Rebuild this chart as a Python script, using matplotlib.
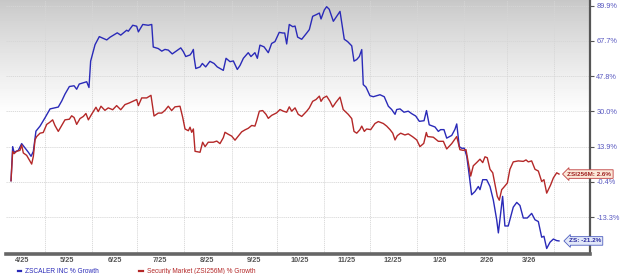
import matplotlib
matplotlib.use('Agg')
import matplotlib.pyplot as plt
import numpy as np
import pandas as pd

plt.rcParams['font.family'] = ['Liberation Sans', 'DejaVu Sans']

# days since 2025-04-01, % growth
zs_days = [7.9, 9.0, 9.9, 12.7, 14.9, 17.1, 19.3, 21.1, 22.6, 24.3, 27.0, 30.3, 33.6, 39.0,
           41.3, 43.4, 46.3, 49.4, 51.1, 52.8, 56.6, 57.7, 59.2, 60.3, 63.2, 66.0, 70.9, 73.0,
           77.8, 80.1, 84.0, 85.1, 88.0, 90.6, 91.7, 94.6, 98.2, 100.5, 101.5, 104.8, 107.1,
           109.2, 111.4, 114.0, 116.9, 119.6, 121.3, 122.9, 125.7, 126.8, 127.9, 128.3, 129.5,
           132.3, 133.8, 136.0, 138.8, 141.5, 143.6, 147.6, 149.4, 152.0, 154.2, 156.8, 158.6,
           160.8, 164.0, 165.8, 168.4, 170.0, 171.7, 174.4, 177.2, 179.4, 181.6, 184.4, 186.7,
           188.0, 189.3, 191.0, 193.3, 194.8, 196.5, 199.2, 202.5, 204.2, 206.4, 208.6, 210.8,
           211.9, 214.1, 215.6, 217.3, 220.0, 222.2, 224.4, 227.2, 229.4, 232.1, 233.6, 235.4,
           237.1, 238.7, 239.7, 241.5, 244.1, 246.3, 248.5, 250.7, 253.5, 256.2, 258.4, 260.6,
           261.7, 263.9, 266.5, 269.3, 271.6, 274.2, 276.6, 279.7, 281.3, 283.1, 286.9, 289.1,
           290.6, 292.8, 294.6, 297.9, 300.0, 301.2, 302.9, 304.5, 306.2, 307.8, 309.5, 311.0,
           313.2, 315.4, 316.5, 318.3, 320.9, 323.1, 325.3, 327.5, 328.6, 330.1, 331.4, 332.9,
           335.1, 338.4, 340.7, 342.8, 345.0, 347.6, 350.5, 352.7, 354.9, 357.1, 358.6, 360.4,
           362.6, 364.8, 367.0, 368.5]
zs_pct = [0.0, 13.9, 11.5, 12.3, 15.2, 13.3, 11.5, 9.8, 11.9, 20.7, 23.0, 26.9, 31.1, 32.0,
          35.0, 38.4, 42.3, 42.7, 40.9, 43.6, 44.5, 44.8, 41.8, 56.0, 65.5, 70.3, 68.3, 69.9,
          72.6, 71.2, 74.2, 73.6, 77.3, 76.7, 73.2, 77.8, 77.3, 77.8, 64.1, 63.2, 61.7,
          62.7, 62.3, 60.1, 61.9, 63.6, 61.4, 58.6, 59.5, 60.8, 62.7, 58.6, 51.9,
          52.8, 54.7, 52.8, 55.9, 54.7, 52.8, 50.9, 57.6, 55.7, 56.1, 51.4, 53.6,
          57.6, 60.8, 58.6, 60.8, 57.6, 65.2, 64.2, 60.8, 66.2, 67.3, 72.9, 72.5,
          72.5, 65.9, 77.8, 76.4, 76.8, 70.0, 68.7, 72.5, 74.6, 83.0, 84.0, 85.1,
          81.3, 87.2, 89.3, 87.6, 79.8, 83.0, 86.2, 68.7, 67.3, 64.8, 56.0, 56.9,
          58.6, 62.6, 43.3, 42.0, 37.6, 37.1, 37.6, 38.1, 37.1, 32.4, 30.8, 28.5,
          30.8, 31.1, 29.5, 30.0, 28.8, 27.7, 25.2, 25.5, 30.3, 23.6, 22.6, 20.6,
          21.4, 21.4, 17.6, 18.8, 21.5, 24.0, 13.9, 13.2, 13.2, 9.8, 1.8, -5.3,
          -4.1, -2.2, -3.4, 0.4, 0.4, -2.2, -7.3, -14.2, -18.6, -12.0, -5.9, -16.3,
          -16.3, -9.8, -8.1, -9.2, -13.6, -13.6, -12.0, -14.2, -14.8, -20.0, -19.7, -23.6,
          -21.6, -20.6, -21.1, -21.2]

mkt_days = [7.9, 9.0, 9.9, 11.6, 13.8, 14.9, 16.0, 18.2, 19.9, 21.5, 22.6, 23.7, 24.8, 27.0,
            29.1, 31.4, 33.1, 35.3, 36.8, 39.0, 41.3, 43.4, 46.3, 47.8, 49.4, 51.1, 53.3, 55.5,
            57.2, 58.8, 61.0, 63.8, 65.3, 67.1, 69.7, 71.9, 74.8, 77.4, 80.1, 82.9, 85.7, 88.0,
            90.6, 91.7, 93.9, 97.2, 100.0, 102.0, 104.8, 107.1, 109.2, 111.4, 113.6, 115.8,
            119.1, 120.9, 122.4, 124.6, 125.7, 126.8, 127.9, 129.0, 132.3, 134.0, 135.6, 137.7,
            141.0, 143.3, 145.4, 147.6, 148.7, 150.9, 153.1, 155.3, 157.5, 159.7, 161.9, 164.0,
            166.3, 168.4, 169.6, 171.3, 173.5, 175.7, 177.2, 179.4, 182.7, 184.9, 187.1, 189.3,
            191.0, 192.6, 194.8, 196.9, 199.2, 202.5, 204.2, 206.4, 208.6, 210.8, 211.9, 213.4,
            215.6, 217.8, 219.6, 221.7, 224.4, 226.5, 229.8, 232.1, 233.6, 235.4, 237.5, 238.7,
            240.4, 241.9, 244.6, 247.4, 249.6, 252.9, 255.1, 257.3, 259.1, 260.6, 262.1, 264.3,
            267.1, 269.3, 272.2, 274.9, 277.0, 279.5, 281.2, 282.0, 285.8, 289.1, 292.4, 294.6,
            297.9, 301.2, 303.3, 305.5, 307.3, 308.8, 310.4, 312.1, 314.3, 316.5, 318.3, 319.8,
            321.3, 323.1, 324.9, 326.4, 327.9, 329.2, 330.8, 331.9, 334.5, 336.2, 338.4, 341.7,
            345.0, 346.8, 348.3, 350.5, 352.7, 354.9, 357.1, 358.6, 360.4, 363.0, 364.8, 367.0,
            368.5]
mkt_pct = [0.0, 11.9, 10.9, 11.9, 12.3, 14.6, 11.2, 10.2, 8.3, 6.6, 9.8, 16.9, 18.3, 19.8,
           20.1, 23.8, 24.6, 25.9, 23.3, 20.6, 23.3, 25.9, 26.2, 27.8, 27.0, 23.8, 26.5, 27.5,
           28.9, 25.9, 28.6, 31.9, 29.8, 32.4, 30.4, 31.6, 30.7, 32.7, 30.7, 33.2, 34.0, 34.8,
           35.7, 32.7, 36.5, 36.5, 37.8, 27.7, 29.1, 29.1, 30.4, 32.4, 30.3, 32.1,
           32.4, 27.0, 21.7, 20.9, 22.5, 20.2, 21.7, 11.9, 11.5, 15.8, 13.9, 15.8,
           15.8, 16.3, 15.2, 17.8, 20.2, 19.3, 18.5, 16.7, 18.5, 20.4, 21.3, 22.0,
           23.3, 23.0, 25.6, 30.0, 30.3, 28.5, 26.6, 28.0, 29.2, 30.8, 30.0, 29.5,
           32.1, 30.0, 31.6, 28.5, 27.5, 30.0, 31.6, 34.8, 35.7, 37.4, 34.8, 36.5,
           37.4, 34.8, 32.0, 34.3, 36.9, 30.8, 28.5, 26.5, 20.6, 19.8, 21.4, 23.0,
           20.6, 21.7, 21.4, 24.2, 25.1, 24.2, 23.0, 21.4, 19.8, 16.8, 18.7, 19.8,
           19.0, 19.5, 18.2, 16.8, 13.9, 15.3, 20.1, 18.3, 18.0, 16.2, 16.2, 12.9,
           15.2, 18.3, 12.6, 12.3, 12.6, 7.2, 1.8, 5.9, 7.2, 8.6, 7.2, 9.6,
           9.2, 4.5, 3.1, -1.5, -5.9, -7.3, -3.4, -2.7, -0.9, 4.5, 7.5, 7.9,
           7.7, 8.3, 7.5, 7.9, 4.5, 3.8, -0.3, 0.4, -4.7, -1.6, 1.1, 3.1,
           2.6]

y_ticks = [89.9, 67.7, 47.8, 30.0, 13.9, -0.4, -13.3]
x_labels = ['4/25', '5/25', '6/25', '7/25', '8/25', '9/25', '10/25',
            '11/25', '12/25', '1/26', '2/26', '3/26']

start = pd.Timestamp('2025-04-01')
zs_x = start + pd.to_timedelta(zs_days, unit='D')
mkt_x = start + pd.to_timedelta(mkt_days, unit='D')

blue = '#2a2ab8'
red = '#b42828'

# zacks-style scale: log of (growth + offset)
OFF = 123.7
def fwd(v):
    return np.log(np.clip(np.asarray(v, dtype=float) + OFF, 1e-6, None))
def inv(v):
    return np.exp(np.asarray(v, dtype=float)) - OFF

fig = plt.figure(figsize=(6.2, 2.74), dpi=100)

# background gradient
bg = fig.add_axes([0, 20 / 274, 590 / 620, 254 / 274], zorder=0)
t = np.linspace(0, 1, 254)
shade = 0.78 + 0.22 * np.clip(t / 0.45, 0, 1) ** 0.85
bg.imshow(np.repeat(shade[:, None], 2, axis=1), cmap='gray', vmin=0, vmax=1,
          aspect='auto', extent=[0, 1, 0, 1])
bg.axis('off')

ax = fig.add_axes([6 / 620, 20 / 274, 584 / 620, 254 / 274], zorder=1)
ax.patch.set_alpha(0)

ax.plot(zs_x, zs_pct, color=blue, lw=1.0, label='ZSCALER INC % Growth')
ax.plot(mkt_x, mkt_pct, color=red, lw=1.0, label='Security Market (ZSI256M) % Growth')

ax.set_yscale('function', functions=(fwd, inv))
ax.set_ylim(-25.3, 93.8)
ax.set_xlim(start + pd.Timedelta(days=4.6), start + pd.Timedelta(days=388.9))

ax.yaxis.tick_right()
ax.set_yticks(y_ticks)
ax.set_yticklabels(['%.1f%%' % v for v in y_ticks])
ax.yaxis.set_minor_locator(matplotlib.ticker.NullLocator())
ax.tick_params(axis='y', direction='out', length=3, width=0.8, color='#555555',
               labelcolor='#5858c0', labelsize=5.3, pad=1.5)

month_starts = pd.date_range('2025-05-01', periods=12, freq='MS')
mid_months = pd.date_range('2025-04-01', periods=12, freq='MS') + pd.Timedelta(days=15)
ax.set_xticks(month_starts)
ax.set_xticklabels([])
ax.set_xticks(mid_months, minor=True)
ax.set_xticklabels(x_labels, minor=True)
ax.tick_params(axis='x', which='both', length=0)
ax.tick_params(axis='x', which='minor', labelsize=5.3, labelcolor='#555555', pad=2)
for lab in ax.get_xticklabels(minor=True):
    lab.set_fontweight('bold')

ax.grid(axis='both', which='major', color='#d6d6d6', lw=0.6, ls=(0, (1.5, 1)))

for s in ['left', 'top']:
    ax.spines[s].set_visible(False)
ax.spines['right'].set_color('#555555')
ax.spines['right'].set_linewidth(1.6)
ax.spines['bottom'].set_color('#666666')
ax.spines['bottom'].set_linewidth(2.6)

# end-of-line value tags
ax.annotate('ZSI256M: %.1f%%' % mkt_pct[-1], xy=(mkt_x[-1], mkt_pct[-1]),
            xytext=(6, 0), textcoords='offset points', va='center', ha='left',
            fontsize=4.6, fontweight='bold', color='#a02222', zorder=5,
            bbox=dict(boxstyle='larrow,pad=0.28', fc='#fbe8d8', ec='#c04040', lw=0.6))
ax.annotate('ZS: %.1f%%' % zs_pct[-1], xy=(zs_x[-1], zs_pct[-1]),
            xytext=(7, 0), textcoords='offset points', va='center', ha='left',
            fontsize=4.6, fontweight='bold', color='#2a2aa0', zorder=5,
            bbox=dict(boxstyle='larrow,pad=0.28', fc='#e2e8f8', ec='#5060c0', lw=0.6))

leg = ax.legend(loc='lower left', bbox_to_anchor=(18 / 620, -0.005),
                bbox_transform=fig.transFigure, ncol=2, frameon=False,
                fontsize=4.7, handlelength=0.5, handletextpad=0.6,
                columnspacing=6.2, borderpad=0, borderaxespad=0)
for txt, c in zip(leg.get_texts(), [blue, red]):
    txt.set_color(c)
for h in leg.legend_handles:
    h.set_linewidth(1.6)

fig.savefig('out.png', dpi=100)
